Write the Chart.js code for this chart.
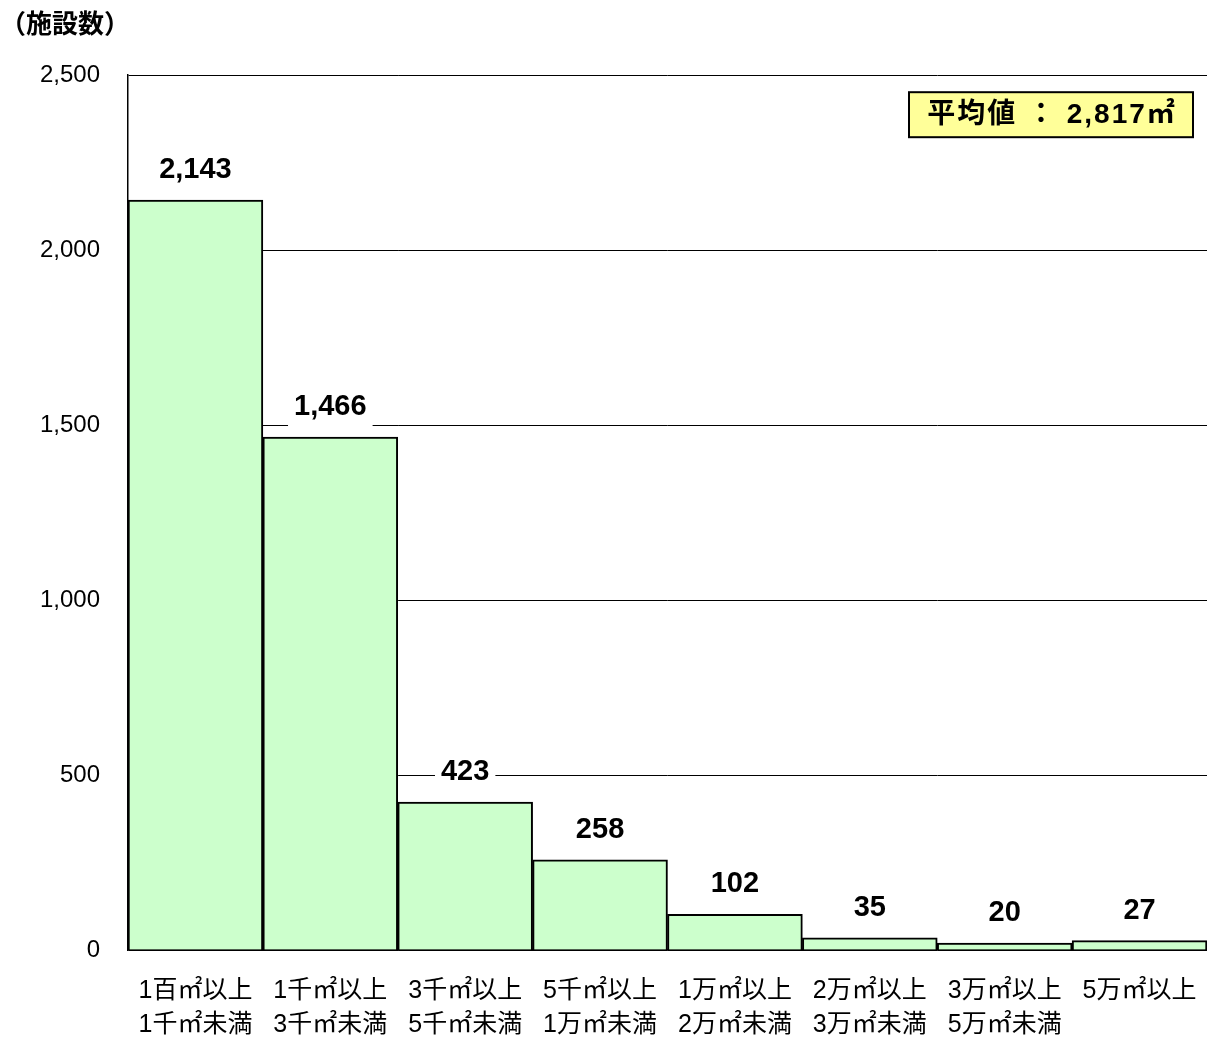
<!DOCTYPE html>
<html>
<head>
<meta charset="utf-8">
<script src="https://cdn.jsdelivr.net/npm/chart.js@4/dist/chart.umd.min.js"></script>
<style>
  html, body { margin: 0; padding: 0; background: #fff; overflow: hidden; }
  #wrap { width: 1207px; height: 1038px; position: relative; }
</style>
</head>
<body>
<div id="wrap"><canvas id="c"></canvas></div>
<script>
// categories (two lines each)
const catTop = ['1百㎡以上', '1千㎡以上', '3千㎡以上', '5千㎡以上', '1万㎡以上', '2万㎡以上', '3万㎡以上', '5万㎡以上'];
const catBottom = ['1千㎡未満', '3千㎡未満', '5千㎡未満', '1万㎡未満', '2万㎡未満', '3万㎡未満', '5万㎡未満', ''];
// facility counts
const counts = [2143, 1466, 423, 258, 102, 35, 20, 27];
const yTitle = '（施設数）';
const avgText = '平均値 ： 2,817㎡';

const FONT = '"Liberation Sans", Arial, "Noto Sans CJK JP", sans-serif';
const CJK = '"Noto Sans CJK JP", "Liberation Sans", sans-serif';

// value labels with white background above each bar
const valueLabels = {
    id: 'valueLabels',
    afterDatasetsDraw(chart) {
        const ctx = chart.ctx;
        const meta = chart.getDatasetMeta(0);
        ctx.save();
        ctx.font = 'bold 29px ' + FONT;
        ctx.textAlign = 'center';
        ctx.textBaseline = 'middle';
        meta.data.forEach((bar, i) => {
            const txt = counts[i].toLocaleString('en-US');
            const cy = bar.y - 31;
            const w = ctx.measureText(txt).width;
            ctx.fillStyle = '#fff';
            ctx.fillRect(bar.x - w / 2 - 6, cy - 19, w + 12, 39);
            ctx.fillStyle = '#000';
            ctx.fillText(txt, bar.x, cy + 1);
        });
        ctx.restore();
    }
};

// average box in upper right
const avgBox = {
    id: 'avgBox',
    afterDraw(chart) {
        const ctx = chart.ctx;
        const a = chart.chartArea;
        const w = 284, h = 45;
        const x = a.right - 14 - w, y = a.top + 17;
        ctx.save();
        ctx.fillStyle = '#FFFF99';
        ctx.fillRect(x, y, w, h);
        ctx.strokeStyle = '#000';
        ctx.lineWidth = 2;
        ctx.strokeRect(x, y, w, h);
        ctx.fillStyle = '#000';
        ctx.font = 'bold 28px ' + FONT;
        ctx.letterSpacing = '2px';
        ctx.textAlign = 'center';
        ctx.textBaseline = 'middle';
        ctx.fillText(avgText, x + w / 2 + 1, y + h / 2 + 1);
        ctx.restore();
    }
};

const ctx = document.getElementById('c').getContext('2d');
const chart = new Chart(ctx, {
    type: 'bar',
    data: {
        labels: catTop.map((t, i) => [t, catBottom[i]]),
        datasets: [{
            data: counts,
            backgroundColor: '#CCFFCC',
            borderColor: '#000',
            borderWidth: 2,
            categoryPercentage: 1,
            barPercentage: 1
        }]
    },
    options: {
        responsive: true,
        maintainAspectRatio: false,
        animation: false,
        layout: { padding: { left: 0, right: 0, top: 0, bottom: 0 } },
        plugins: {
            legend: { display: false },
            tooltip: { enabled: false },
            title: {
                display: true,
                text: yTitle,
                align: 'start',
                color: '#000',
                font: { family: CJK, size: 26, weight: 'bold', lineHeight: 1.2 },
                padding: { top: 8, bottom: 36 }
            }
        },
        scales: {
            x: {
                grid: { display: false, drawTicks: false },
                border: { display: true, color: '#000', width: 1.5 },
                ticks: {
                    color: '#000',
                    padding: 24,
                    maxRotation: 0,
                    autoSkip: false,
                    font: { family: FONT, size: 25, lineHeight: '34px' }
                },
                afterFit: s => { s.height = 88; s.paddingLeft = 0; s.paddingRight = 0; }
            },
            y: {
                min: 0,
                max: 2500,
                ticks: {
                    stepSize: 500,
                    color: '#000',
                    padding: 28,
                    font: { family: FONT, size: 24 },
                    callback: v => v.toLocaleString('en-US')
                },
                grid: { color: '#000', lineWidth: 1, drawTicks: false },
                border: { display: true, color: '#000', width: 1.5 },
                afterFit: s => { s.width = 128; }
            }
        }
    },
    plugins: [valueLabels, avgBox]
});
</script>
</body>
</html>
